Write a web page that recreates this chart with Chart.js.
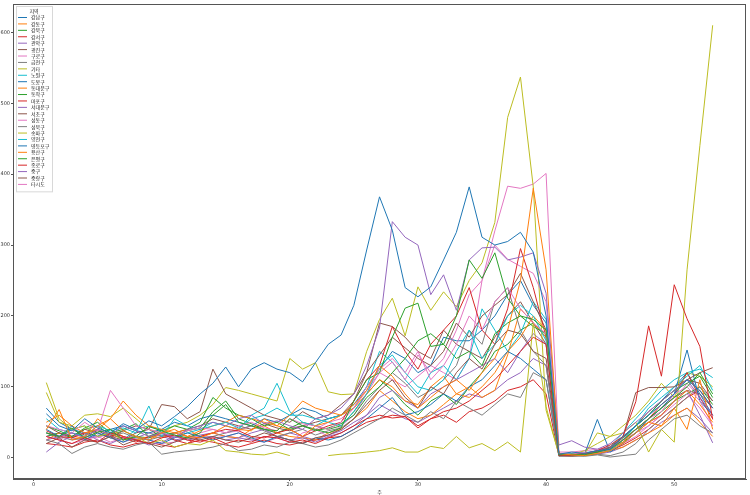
<!DOCTYPE html>
<html>
<head>
<meta charset="utf-8">
<script src="https://cdn.jsdelivr.net/npm/chart.js@4.4.1/dist/chart.umd.min.js"></script>
<style>
  html, body { margin: 0; padding: 0; background: #fff; }
</style>
</head>
<body>
<canvas id="chart" width="750" height="495"></canvas>
<script>
// weekly counts per district, weeks 1..53
var weeks = [];
for (var w = 1; w <= 53; w++) weeks.push(w);

var xTicks = [0, 10, 20, 30, 40, 50];
var yTicks = [0, 100, 200, 300, 400, 500, 600];
var legendTitle = '지역';
var xTitle = '주';

var districts = ['강남구', '강동구', '강북구', '강서구', '관악구', '광진구', '구로구', '금천구', '기타',
    '노원구', '도봉구', '동대문구', '동작구', '마포구', '서대문구', '서초구', '성동구', '성북구',
    '송파구', '양천구', '영등포구', '용산구', '은평구', '종로구', '중구', '중랑구', '타시도'];

var gangnam = [62, 45, 38, 55, 42, 35, 48, 40, 52, 45, 58, 72, 90,
    105, 128, 100, 125, 134, 125, 120, 107, 134, 160, 173,
    215, 293, 368, 321, 240, 227, 241, 279, 318, 382,
    311, 300, 305, 318, 290, 200, 5,
    8, 6, 10, 12, 30, 45, 60, 75, 90, 110, 95, 70];
var gangdong = [40, 68, 25, 30, 45, 55, 38, 30, 25, 35, 40, 30, 28,
    35, 45, 40, 38, 55, 45, 40, 30, 45, 50, 60,
    75, 95, 130, 115, 90, 70, 85, 100, 110, 95,
    120, 140, 180, 250, 380, 265, 6,
    4, 3, 6, 10, 20, 35, 50, 60, 80, 95, 75, 50];
var gangbuk = [35, 30, 42, 28, 36, 40, 25, 30, 44, 38, 32, 28, 35,
    60, 75, 50, 45, 40, 38, 55, 45, 40, 35, 42,
    80, 110, 120, 170, 211, 218, 157, 160, 200, 279,
    253, 289, 225, 200, 195, 180, 4,
    5, 4, 8, 12, 25, 40, 55, 70, 85, 100, 120, 90];
var gangseo = [30, 25, 20, 28, 22, 35, 30, 25, 20, 28, 32, 25, 22,
    28, 20, 25, 22, 30, 28, 22, 25, 20, 28, 35,
    45, 55, 60, 56, 58, 42, 55, 65, 70, 80,
    95, 110, 130, 150, 170, 160, 3,
    4, 6, 10, 18, 30, 79, 186, 115, 244, 196, 157, 54];
var gwanak = [25, 30, 35, 28, 40, 32, 45, 38, 30, 35, 28, 40, 45,
    50, 45, 55, 60, 48, 52, 45, 40, 55, 60, 70,
    90, 130, 183, 333, 311, 300, 230, 258, 208, 279,
    296, 297, 279, 283, 289, 232, 18,
    24, 15, 12, 20, 35, 50, 65, 80, 95, 110, 85, 60];
var gwangjin = [20, 28, 15, 25, 22, 30, 18, 25, 20, 15, 22, 28, 25,
    30, 25, 22, 28, 35, 30, 25, 20, 28, 32, 40,
    55, 75, 95, 110, 85, 70, 100, 90, 120, 140,
    125, 160, 180, 175, 150, 140, 5,
    3, 5, 8, 15, 30, 92, 99, 99, 100, 110, 120, 127];
var guro = [45, 40, 35, 50, 38, 95, 70, 45, 40, 35, 30, 38, 42,
    40, 35, 45, 50, 42, 38, 55, 48, 45, 40, 50,
    70, 100, 125, 140, 120, 150, 110, 130, 160, 200,
    180, 220, 240, 210, 190, 175, 6,
    5, 8, 6, 12, 25, 40, 55, 65, 90, 100, 80, 45];
var geumcheon = [25, 20, 6, 15, 20, 15, 12, 18, 22, 5, 8, 10, 12,
    15, 20, 10, 12, 18, 15, 22, 20, 15, 18, 25,
    35, 45, 55, 70, 60, 50, 65, 55, 80, 70,
    60, 75, 90, 85, 120, 110, 2,
    3, 2, 4, 1, 3, 5, 25, 40, 55, 60, 45, 35];
var etc = [106, 55, 40, 45, 30, 35, 25, 30, 20, 25, 15, 20, 18,
    25, 10, 8, 5, 4, 8, 3, null, null, 3, 5,
    6, 8, 10, 14, 8, 8, 16, 13, 30, 14,
    20, 10, 22, 8, 190, 72, 4,
    3, 5, 35, 30, 35, 50, 8, 40, 22, 265, 440, 610];
var nowon = [55, 40, 35, 30, 45, 38, 42, 35, 73, 30, 55, 45, 40,
    45, 50, 42, 55, 60, 70, 60, 60, 55, 50, 45,
    65, 90, 130, 145, 120, 100, 95, 110, 150, 180,
    140, 160, 200, 215, 200, 165, 5,
    6, 4, 8, 10, 25, 45, 70, 85, 100, 115, 130, 95];
var dobong = [40, 30, 45, 25, 35, 28, 22, 30, 25, 20, 28, 35, 30,
    25, 30, 35, 28, 22, 30, 25, 20, 28, 25, 30,
    40, 55, 70, 85, 60, 65, 75, 90, 80, 100,
    110, 130, 150, 140, 125, 110, 4,
    3, 5, 54, 8, 20, 35, 55, 70, 90, 152, 80, 60];
var dongdaemun = [50, 60, 45, 35, 40, 55, 80, 60, 45, 40, 35, 30, 38,
    45, 50, 60, 55, 50, 45, 60, 80, 70, 65, 60,
    70, 90, 110, 100, 80, 75, 100, 115, 90, 85,
    100, 120, 150, 170, 200, 180, 5,
    4, 6, 8, 12, 22, 40, 50, 45, 70, 40, 110, 40];
var dongjak = [45, 38, 30, 42, 50, 35, 40, 48, 30, 38, 45, 40, 50,
    85, 70, 60, 55, 45, 50, 40, 45, 38, 42, 48,
    60, 85, 100, 120, 140, 165, 175, 160, 140, 150,
    130, 175, 190, 200, 185, 175, 5,
    4, 3, 6, 10, 25, 45, 60, 80, 95, 105, 115, 85];
var mapo = [38, 30, 28, 35, 40, 32, 28, 22, 30, 35, 25, 20, 30,
    35, 40, 38, 30, 28, 35, 40, 30, 38, 45, 50,
    80, 110, 130, 185, 150, 125, 160, 180, 200, 240,
    180, 160, 210, 295, 240, 170, 5,
    5, 4, 7, 12, 25, 40, 55, 75, 90, 120, 85, 55];
var seodaemun = [8, 22, 30, 35, 25, 20, 28, 25, 18, 22, 30, 25, 28,
    30, 25, 28, 35, 40, 30, 25, 28, 22, 30, 35,
    45, 60, 85, 95, 80, 70, 90, 100, 110, 120,
    130, 140, 120, 150, 175, 160, 5,
    4, 6, 10, 15, 25, 40, 50, 60, 80, 95, 60, 21];
var seocho = [45, 35, 30, 40, 35, 28, 38, 45, 40, 75, 72, 55, 65,
    125, 90, 80, 70, 60, 55, 50, 65, 55, 60, 75,
    90, 120, 145, 170, 155, 140, 130, 150, 190, 170,
    200, 215, 230, 260, 220, 180, 6,
    5, 6, 9, 14, 28, 45, 65, 80, 95, 110, 105, 80];
var seongdong = [30, 25, 20, 25, 30, 22, 28, 30, 25, 20, 22, 28, 30,
    28, 30, 35, 25, 30, 28, 22, 35, 40, 30, 45,
    60, 90, 120, 135, 110, 145, 120, 140, 180, 230,
    250, 300, 280, 270, 260, 220, 5,
    5, 4, 6, 10, 20, 30, 45, 60, 75, 90, 70, 45];
var seongbuk = [35, 30, 25, 28, 22, 30, 35, 28, 25, 30, 35, 30, 28,
    30, 35, 40, 45, 38, 30, 35, 40, 32, 38, 42,
    55, 80, 100, 120, 105, 85, 95, 110, 130, 180,
    160, 220, 240, 180, 150, 130, 3,
    2, 3, 5, 3, 8, 20, 40, 55, 70, 85, 100, 80];
var songpa = [92, 50, 45, 60, 62, 58, 70, 55, 40, 35, 45, 50, 60,
    75, 99, 95, 90, 85, 80, 140, 125, 134, 93, 89,
    90, 150, 195, 225, 172, 241, 208, 234, 213, 250,
    275, 332, 480, 537, 382, 67, 5,
    4, 10, 20, 30, 45, 60, 80, 105, 85, 120, 115, 100];
var yangcheon = [35, 30, 40, 45, 30, 35, 25, 40, 45, 38, 30, 35, 40,
    50, 45, 40, 60, 70, 105, 65, 50, 45, 55, 60,
    70, 100, 150, 135, 110, 90, 120, 130, 110, 140,
    210, 180, 150, 175, 220, 195, 6,
    5, 7, 10, 15, 35, 55, 75, 95, 110, 120, 125, 113];
var yeongdeungpo = [70, 50, 40, 35, 30, 40, 45, 38, 35, 40, 50, 45, 55,
    60, 55, 50, 45, 55, 50, 60, 70, 65, 55, 60,
    75, 100, 125, 150, 140, 120, 130, 170, 165, 165,
    180, 200, 230, 250, 215, 190, 5,
    4, 5, 7, 12, 30, 45, 60, 80, 100, 120, 90, 60];
var yongsan = [25, 35, 30, 28, 55, 40, 30, 25, 30, 28, 35, 40, 30,
    35, 30, 28, 40, 45, 35, 30, 28, 25, 35, 40,
    55, 70, 95, 80, 65, 55, 60, 75, 90, 100,
    85, 95, 145, 210, 190, 170, 4,
    4, 5, 6, 10, 15, 25, 35, 45, 60, 70, 50, 30];
var eunpyeong = [30, 35, 28, 40, 45, 32, 38, 30, 28, 35, 30, 38, 42,
    65, 80, 55, 48, 40, 35, 42, 50, 45, 40, 45,
    65, 90, 110, 95, 75, 60, 80, 90, 75, 100,
    120, 150, 160, 180, 190, 170, 4,
    5, 4, 8, 12, 22, 35, 50, 65, 80, 90, 100, 75];
var jongno = [20, 18, 15, 22, 25, 18, 15, 20, 22, 18, 15, 20, 25,
    22, 18, 15, 20, 25, 20, 18, 22, 25, 28, 30,
    40, 50, 55, 60, 58, 45, 55, 60, 50, 65,
    70, 80, 95, 100, 110, 90, 3,
    2, 4, 6, 10, 18, 28, 40, 55, 70, 85, 95, 70];
var junggu = [30, 35, 28, 25, 32, 30, 22, 28, 35, 30, 25, 28, 32,
    35, 30, 28, 25, 22, 28, 35, 30, 25, 32, 38,
    50, 60, 75, 65, 55, 50, 60, 70, 80, 90,
    85, 95, 110, 120, 140, 130, 3,
    3, 4, 5, 8, 15, 25, 35, 50, 60, 70, 55, 35];
var jungnang = [35, 28, 40, 32, 38, 30, 25, 35, 40, 30, 35, 40, 45,
    55, 50, 45, 40, 48, 42, 38, 45, 50, 55, 60,
    80, 120, 190, 185, 170, 150, 140, 180, 160, 150,
    140, 170, 200, 220, 190, 160, 4,
    3, 5, 7, 12, 25, 40, 55, 70, 85, 95, 90, 70];
var otherProvince = [30, 25, 35, 30, 28, 35, 30, 25, 28, 32, 30, 28, 35,
    40, 35, 38, 45, 40, 35, 42, 45, 40, 50, 55,
    70, 95, 120, 110, 100, 115, 130, 120, 110, 140,
    250, 320, 383, 380, 386, 401, 8,
    8, 10, 12, 15, 25, 35, 45, 60, 80, 105, 85, 60];

var seriesValues = [gangnam, gangdong, gangbuk, gangseo, gwanak, gwangjin, guro, geumcheon, etc,
    nowon, dobong, dongdaemun, dongjak, mapo, seodaemun, seocho, seongdong, seongbuk,
    songpa, yangcheon, yeongdeungpo, yongsan, eunpyeong, jongno, junggu, jungnang, otherProvince];

// matplotlib tab10 cycle
var palette = ['#1f77b4', '#ff7f0e', '#2ca02c', '#d62728', '#9467bd',
    '#8c564b', '#e377c2', '#7f7f7f', '#bcbd22', '#17becf'];

var datasets = districts.map(function(name, i) {
    return {
        label: name,
        data: seriesValues[i].map(function(v, j) { return { x: weeks[j], y: v }; }),
        borderColor: palette[i % palette.length],
        backgroundColor: palette[i % palette.length],
        borderWidth: 1,
        pointRadius: 0,
        tension: 0,
        fill: false,
        spanGaps: false
    };
});

var frameAndLegend = {
    id: 'frameAndLegend',
    afterDraw: function(chart) {
        var ctx = chart.ctx;
        var a = chart.chartArea;
        ctx.save();
        ctx.strokeStyle = '#555';
        ctx.lineWidth = 1;
        ctx.strokeRect(Math.round(a.left) + 0.5, Math.round(a.top) + 0.5,
            Math.round(a.right - a.left) - 1, Math.round(a.bottom - a.top) - 1);

        // legend box in the upper left corner
        var bx = a.left + 3, by = a.top + 2, bw = 36, rowH = 6.42;
        var bh = 12 + rowH * districts.length;
        ctx.globalAlpha = 0.8;
        ctx.fillStyle = '#fff';
        ctx.fillRect(bx, by, bw, bh);
        ctx.globalAlpha = 1;
        ctx.strokeStyle = '#d8d8d8';
        ctx.strokeRect(bx + 0.5, by + 0.5, bw, bh);

        ctx.font = '5px "Noto Sans CJK KR", sans-serif';
        ctx.fillStyle = '#222';
        ctx.textBaseline = 'middle';
        ctx.textAlign = 'center';
        ctx.fillText(legendTitle, bx + bw / 2, by + 5);
        ctx.textAlign = 'left';
        chart.data.datasets.forEach(function(ds, i) {
            var yy = by + 11.5 + i * rowH;
            ctx.strokeStyle = ds.borderColor;
            ctx.lineWidth = 1;
            ctx.beginPath();
            ctx.moveTo(bx + 2, yy);
            ctx.lineTo(bx + 11, yy);
            ctx.stroke();
            ctx.fillStyle = '#222';
            ctx.fillText(ds.label, bx + 15, yy);
        });
        ctx.restore();
    }
};

var tickFont = { family: 'DejaVu Sans', size: 5 };

new Chart(document.getElementById('chart').getContext('2d'), {
    type: 'line',
    data: { datasets: datasets },
    options: {
        responsive: false,
        animation: false,
        parsing: true,
        layout: { padding: { top: 4, right: 4, left: 0, bottom: 0 } },
        plugins: { legend: { display: false }, tooltip: { enabled: false } },
        scales: {
            x: {
                type: 'linear',
                min: -1.6, max: 55.6,
                afterBuildTicks: function(s) { s.ticks = xTicks.map(function(v) { return { value: v }; }); },
                afterFit: function(s) { s.height = 16; },
                ticks: { font: tickFont, color: '#333', padding: 1, maxRotation: 0 },
                grid: { drawOnChartArea: false, tickLength: 2, color: '#555' },
                border: { color: '#555', width: 1 },
                title: { display: true, text: xTitle, font: { family: 'Noto Sans CJK KR', size: 5 }, color: '#333', padding: 0 }
            },
            y: {
                type: 'linear',
                min: -30, max: 640,
                afterBuildTicks: function(s) { s.ticks = yTicks.map(function(v) { return { value: v }; }); },
                afterFit: function(s) { s.width = 13; },
                ticks: { font: tickFont, color: '#333', padding: 1 },
                grid: { drawOnChartArea: false, tickLength: 2, color: '#555' },
                border: { color: '#555', width: 1 }
            }
        }
    },
    plugins: [frameAndLegend]
});
</script>
</body>
</html>
